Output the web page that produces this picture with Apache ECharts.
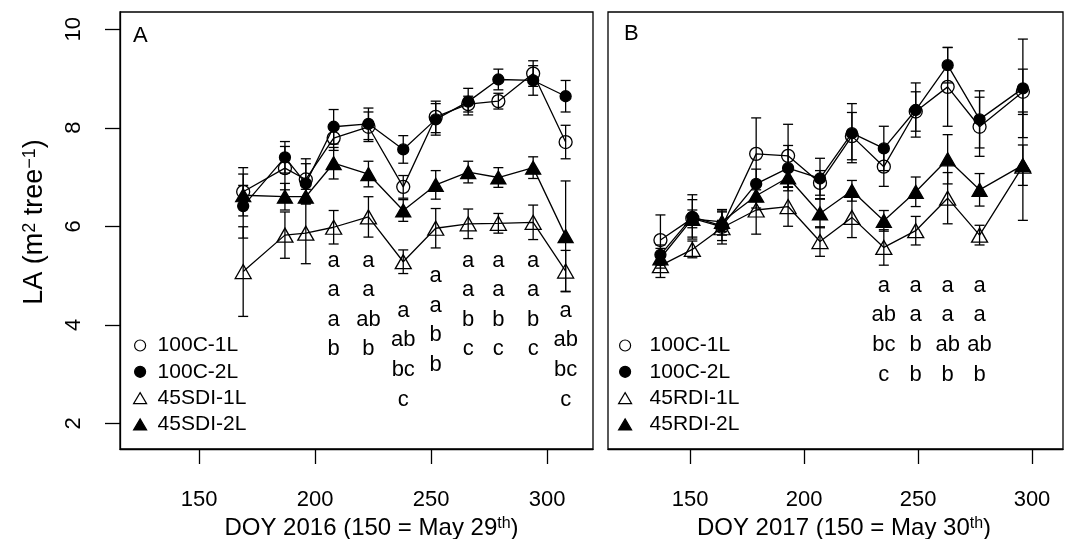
<!DOCTYPE html>
<html>
<head>
<meta charset="utf-8">
<script src="https://cdn.jsdelivr.net/npm/echarts@6/dist/echarts.min.js"></script>
<style>
  html, body { margin: 0; padding: 0; background: #fff; }
  #chart { width: 1071px; height: 539px; }
</style>
</head>
<body>
<div id="chart"></div>
<script>
// panel A (2016)
var doyA = [169, 187, 196, 208, 223, 238, 252, 266, 279, 294, 308];
var c1A = [6.70, 7.18, 6.95, 7.79, 8.02, 6.80, 8.22, 8.48, 8.54, 9.10, 7.71];
var c2A = [6.41, 7.40, 6.87, 8.02, 8.08, 7.56, 8.17, 8.53, 8.98, 8.96, 8.64];
var s1A = [5.08, 5.82, 5.86, 5.98, 6.19, 5.28, 5.96, 6.05, 6.06, 6.08, 5.09];
var s2A = [6.63, 6.60, 6.60, 7.28, 7.06, 6.32, 6.84, 7.10, 6.99, 7.19, 5.80];
var c1A_se = [0.49, 0.44, 0.42, 0.25, 0.30, 0.23, 0.32, 0.16, 0.16, 0.26, 0.34];
var c2A_se = [0.65, 0.32, 0.40, 0.35, 0.32, 0.28, 0.32, 0.27, 0.21, 0.30, 0.32];
var s1A_se = [0.91, 0.47, 0.62, 0.34, 0.41, 0.24, 0.40, 0.30, 0.20, 0.35, 0.42];
var s2A_se = [0.20, 0.27, 0.15, 0.32, 0.26, 0.22, 0.29, 0.22, 0.20, 0.22, 1.12];
var letterDoyA = [208, 223, 238, 252, 266, 279, 294, 308];
var lettersA = [
    ['a', 'a', 'a', 'b'], ['a', 'a', 'ab', 'b'], ['a', 'ab', 'bc', 'c'], ['a', 'a', 'b', 'b'],
    ['a', 'a', 'b', 'c'], ['a', 'a', 'b', 'c'], ['a', 'a', 'b', 'c'], ['a', 'ab', 'bc', 'c']
];
var letterTopA = [5.36, 5.36, 4.34, 5.05, 5.36, 5.36, 5.36, 4.34];

// panel B (2017)
var doyB = [137, 151, 164, 179, 193, 207, 221, 235, 249, 263, 277, 296];
var c1B = [5.72, 6.16, 5.99, 7.47, 7.43, 6.88, 7.83, 7.21, 8.33, 8.83, 8.02, 8.73];
var c2B = [5.42, 6.19, 6.01, 6.86, 7.18, 6.97, 7.89, 7.58, 8.36, 9.27, 8.17, 8.80];
var r1B = [5.20, 5.53, 5.97, 6.33, 6.40, 5.69, 6.18, 5.57, 5.91, 6.57, 5.82, 7.22];
var r2B = [5.35, 6.15, 6.09, 6.62, 6.99, 6.26, 6.72, 6.11, 6.70, 7.36, 6.74, 7.24];
var c1B_se = [0.51, 0.38, 0.35, 0.73, 0.64, 0.25, 0.48, 0.40, 0.40, 0.80, 0.60, 0.46];
var c2B_se = [0.20, 0.45, 0.30, 0.30, 0.46, 0.41, 0.60, 0.45, 0.55, 0.36, 0.58, 1.00];
var r1B_se = [0.24, 0.17, 0.15, 0.49, 0.40, 0.30, 0.41, 0.36, 0.29, 0.52, 0.20, 1.10];
var r2B_se = [0.20, 0.18, 0.20, 0.25, 0.20, 0.29, 0.21, 0.21, 0.30, 0.50, 0.33, 0.41];
var letterDoyB = [235, 249, 263, 277];
var lettersB = [['a', 'ab', 'bc', 'c'], ['a', 'a', 'b', 'b'], ['a', 'a', 'ab', 'b'], ['a', 'a', 'ab', 'b']];
var letterTopB = [4.85, 4.85, 4.85, 4.85];

var xTicks = [150, 200, 250, 300];
var yTicks = [2, 4, 6, 8, 10];
var namesA = ['100C-1L', '100C-2L', '45SDI-1L', '45SDI-2L'];
var namesB = ['100C-1L', '100C-2L', '45RDI-1L', '45RDI-2L'];

var FONT = "'Liberation Sans', Arial, sans-serif";
var LW = 1.3;

var dom = document.getElementById('chart');
var myChart = echarts.init(dom);

// open / filled circle / triangle styles
var marks = [
    { symbol: 'circle', size: 13, fill: 'rgba(0,0,0,0)' },
    { symbol: 'circle', size: 11, fill: '#000' },
    { symbol: 'triangle', size: [16, 14], fill: 'rgba(0,0,0,0)' },
    { symbol: 'triangle', size: [15, 13], fill: '#000' }
];

function errBar(params, api) {
    var x = api.value(0), v = api.value(1), e = api.value(2);
    var top = api.coord([x, v + e]);
    var bot = api.coord([x, v - e]);
    var w = 5;
    var st = { stroke: '#000', lineWidth: LW };
    return {
        type: 'group',
        children: [
            { type: 'line', shape: { x1: top[0], y1: top[1], x2: bot[0], y2: bot[1] }, style: st },
            { type: 'line', shape: { x1: top[0] - w, y1: top[1], x2: top[0] + w, y2: top[1] }, style: st },
            { type: 'line', shape: { x1: bot[0] - w, y1: bot[1], x2: bot[0] + w, y2: bot[1] }, style: st }
        ]
    };
}

function makeSeries(idx, doy, groups, ses, names) {
    var out = [];
    groups.forEach(function (vals, k) {
        out.push({
            type: 'custom',
            name: 'se' + idx + k,
            xAxisIndex: idx,
            yAxisIndex: idx,
            renderItem: errBar,
            encode: { x: 0, y: 1 },
            z: 2,
            data: doy.map(function (d, i) { return [d, vals[i], ses[k][i]]; })
        });
    });
    groups.forEach(function (vals, k) {
        out.push({
            type: 'line',
            name: names[k],
            xAxisIndex: idx,
            yAxisIndex: idx,
            symbol: marks[k].symbol,
            symbolSize: marks[k].size,
            showAllSymbols: true,
            z: 3,
            lineStyle: { color: '#000', width: LW },
            itemStyle: { color: marks[k].fill, borderColor: '#000', borderWidth: LW },
            emphasis: { disabled: true },
            data: doy.map(function (d, i) { return [d, vals[i]]; })
        });
    });
    return out;
}

function letterSeries(idx, doy, letters, tops) {
    return {
        type: 'scatter',
        name: 'letters' + idx,
        xAxisIndex: idx,
        yAxisIndex: idx,
        symbolSize: 0,
        silent: true,
        z: 4,
        itemStyle: { opacity: 1, color: '#000' },
        label: {
            show: true,
            position: 'inside',
            align: 'center',
            verticalAlign: 'top',
            offset: [0, -12],
            lineHeight: 29.6,
            fontSize: 22,
            fontFamily: FONT,
            color: '#000',
            formatter: function (p) { return letters[p.dataIndex].join('\n'); }
        },
        data: doy.map(function (d, i) { return [d, tops[i]]; })
    };
}

function xAxisOpt(idx, min, max, name, shift) {
    return {
        type: 'value',
        gridIndex: idx,
        min: min,
        max: max,
        position: 'bottom',
        axisLine: { show: true, lineStyle: { color: '#000', width: LW } },
        axisTick: { show: true, customValues: xTicks, length: 15, lineStyle: { color: '#000', width: LW } },
        axisLabel: { customValues: xTicks, fontSize: 22, fontFamily: FONT, color: '#000', margin: 40 },
        splitLine: { show: false },
        name: name,
        nameLocation: 'middle',
        nameGap: 66,
        nameTextStyle: {
            fontSize: 24, fontFamily: FONT, color: '#000',
            padding: [0, 0, 0, shift],
            rich: { sup: { fontSize: 16, fontFamily: FONT, color: '#000', verticalAlign: 'top' } }
        }
    };
}

function legendOpt(left, textPad, names) {
    return {
        orient: 'vertical',
        left: left,
        top: 335,
        padding: 0,
        itemGap: 5.3,
        itemWidth: 13,
        itemHeight: 11,
        selectedMode: false,
        textStyle: { fontSize: 21, fontFamily: FONT, color: '#000', padding: [0, 0, 0, textPad] },
        data: names.map(function (n, k) {
            return {
                name: n,
                icon: marks[k].symbol,
                itemStyle: { color: marks[k].fill, borderColor: '#000', borderWidth: 1.2 }
            };
        })
    };
}

var option = {
    animation: false,
    backgroundColor: '#fff',
    textStyle: { fontFamily: FONT },
    grid: [
        { left: 120, top: 12, width: 473, height: 437, show: true, borderColor: '#000', borderWidth: LW, outerBoundsMode: 'none' },
        { left: 608, top: 12, width: 455, height: 437, show: true, borderColor: '#000', borderWidth: LW, outerBoundsMode: 'none' }
    ],
    xAxis: [
        xAxisOpt(0, 115.9, 319.8, 'DOY 2016 (150 = May 29{sup|th})', 30),
        xAxisOpt(1, 114, 313.6, 'DOY 2017 (150 = May 30{sup|th})', 17)
    ],
    yAxis: [
        {
            type: 'value',
            gridIndex: 0,
            min: 1.478,
            max: 10.35,
            axisLine: { show: true, lineStyle: { color: '#000', width: LW } },
            axisTick: { show: true, customValues: yTicks, length: 15, lineStyle: { color: '#000', width: LW } },
            axisLabel: { customValues: yTicks, rotate: 90, fontSize: 22, fontFamily: FONT, color: '#000', margin: 35 },
            splitLine: { show: false },
            name: 'LA (m{sup|2} tree{sup|\u22121})',
            nameLocation: 'middle',
            nameGap: 72,
            nameRotate: 90,
            nameTextStyle: {
                fontSize: 27, fontFamily: FONT, color: '#000',
                padding: [0, 0, 0, 17],
                rich: { sup: { fontSize: 18, fontFamily: FONT, color: '#000', verticalAlign: 'top' } }
            }
        },
        {
            type: 'value',
            gridIndex: 1,
            min: 1.478,
            max: 10.35,
            axisLine: { show: false },
            axisTick: { show: false },
            axisLabel: { show: false },
            splitLine: { show: false }
        }
    ],
    legend: [legendOpt(133, 6, namesA), legendOpt(618, 13, namesB)],
    graphic: [
        { type: 'text', left: 133, top: 25, style: { text: 'A', fontSize: 22, fontFamily: FONT, fill: '#000' } },
        { type: 'text', left: 624, top: 23, style: { text: 'B', fontSize: 22, fontFamily: FONT, fill: '#000' } }
    ],
    series: []
        .concat(makeSeries(0, doyA, [c1A, c2A, s1A, s2A], [c1A_se, c2A_se, s1A_se, s2A_se], namesA))
        .concat(makeSeries(1, doyB, [c1B, c2B, r1B, r2B], [c1B_se, c2B_se, r1B_se, r2B_se], namesB))
        .concat([letterSeries(0, letterDoyA, lettersA, letterTopA), letterSeries(1, letterDoyB, lettersB, letterTopB)])
};

if (option && typeof option === 'object') {
    myChart.setOption(option, true);
}
window.addEventListener('resize', function () {
    myChart.resize();
});
</script>
</body>
</html>
